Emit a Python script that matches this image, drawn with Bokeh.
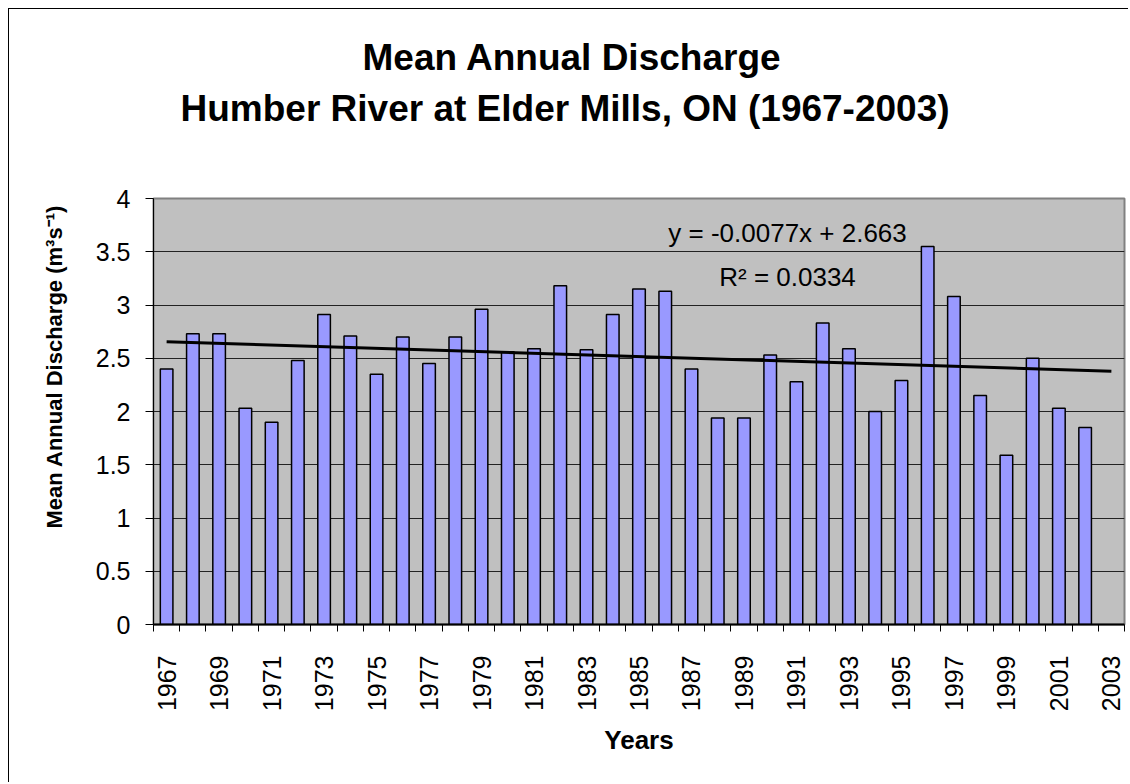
import math
from bokeh.plotting import figure
from bokeh.models import FixedTicker, Label, Title, Range1d, ColumnDataSource
from bokeh.embed import file_html
from bokeh.resources import INLINE

# ---------------- data ----------------
years = [1967, 1968, 1969, 1970, 1971, 1972, 1973, 1974, 1975, 1976, 1977, 1978,
         1979, 1980, 1981, 1982, 1983, 1984, 1985, 1986, 1987, 1988, 1989, 1990,
         1991, 1992, 1993, 1994, 1995, 1996, 1997, 1998, 1999, 2000, 2001, 2002]
discharge = [2.40, 2.73, 2.73, 2.03, 1.90, 2.48, 2.91, 2.71, 2.35, 2.70, 2.45, 2.70,
             2.96, 2.56, 2.59, 3.18, 2.58, 2.91, 3.15, 3.13, 2.40, 1.94, 1.94, 2.53,
             2.28, 2.83, 2.59, 2.00, 2.29, 3.55, 3.08, 2.15, 1.59, 2.50, 2.03, 1.85]
category_years = list(range(1967, 2004))          # x categories 1967 .. 2003
x_tick_years = list(range(1967, 2004, 2))         # labelled years
y_ticks = [0, 0.5, 1, 1.5, 2, 2.5, 3, 3.5, 4]
y_tick_labels = ["0", "0.5", "1", "1.5", "2", "2.5", "3", "3.5", "4"]
trend_slope = -0.0077
trend_intercept = 2.663
equation_text = "y = -0.0077x + 2.663"
r2_text = "R\u00b2 = 0.0334"
title_line1 = "Mean Annual Discharge"
title_line2 = "Humber River at Elder Mills, ON (1967-2003)"
y_label = "Mean Annual Discharge (m\u00b3s\u207b\u00b9)"
x_label = "Years"

FONT = "Liberation Sans"

first, last = category_years[0], category_years[-1]
p = figure(width=1120, height=774, output_backend="svg", toolbar_location=None,
           x_range=Range1d(first - 0.5, last + 0.5), y_range=Range1d(0, 4),
           min_border_left=144, min_border_right=5, min_border_top=189,
           min_border_bottom=159)
p.title = None
p.background_fill_color = "#C0C0C0"
p.border_fill_color = "white"
p.outline_line_color = "#808080"
p.outline_line_width = 2

# bars
src = ColumnDataSource(dict(x=years, top=discharge))
p.vbar(x="x", top="top", width=0.48, bottom=0, source=src,
       fill_color="#9999FF", line_color="black", line_width=1.5)

# linear trend line from the chart's own equation (x = series index 1..n)
n = len(category_years)
tx = [first, last]
ty = [trend_intercept + trend_slope * 1, trend_intercept + trend_slope * n]
p.line(tx, ty, line_color="black", line_width=3)

# grid
p.xgrid.visible = False
p.ygrid.ticker = FixedTicker(ticks=y_ticks)
p.ygrid.grid_line_color = "#222222"
p.ygrid.grid_line_width = 1

# y axis
ya = p.yaxis[0]
ya.ticker = FixedTicker(ticks=y_ticks)
ya.major_label_overrides = {t: l for t, l in zip(y_ticks, y_tick_labels)}
ya.major_tick_out = 8
ya.major_tick_in = 0
ya.minor_tick_line_color = None
ya.axis_line_color = "black"
ya.major_tick_line_color = "black"
ya.major_label_text_font = FONT
ya.major_label_text_font_size = "25px"
ya.major_label_text_color = "black"
ya.major_label_standoff = 15

# x axis
xa = p.xaxis[0]
xa.ticker = FixedTicker(ticks=x_tick_years,
                        minor_ticks=[y - 0.5 for y in category_years] + [last + 0.5])
xa.major_tick_line_color = None
xa.major_tick_out = 0
xa.major_tick_in = 0
xa.minor_tick_line_color = "black"
xa.minor_tick_out = 7
xa.minor_tick_in = 0
xa.axis_line_color = "black"
xa.axis_line_width = 2
xa.major_label_orientation = math.pi / 2
xa.major_label_text_font = FONT
xa.major_label_text_font_size = "25px"
xa.major_label_text_color = "black"
xa.major_label_standoff = 24
xa.axis_label = x_label
xa.axis_label_text_font = FONT
xa.axis_label_text_font_style = "bold"
xa.axis_label_text_font_size = "26px"
xa.axis_label_text_color = "black"
xa.axis_label_standoff = 11

# y-axis title, placed along the axis like the original
p.add_layout(Title(text=y_label, align="left", offset=96,
                   text_font=FONT, text_font_style="bold", text_font_size="22px",
                   text_color="black", standoff=52), "left")

# chart titles (spacer first so it sits next to the frame)
p.add_layout(Title(text=" ", text_font_size="20px", standoff=46), "above")
p.add_layout(Title(text=title_line2, align="left", offset=27,
                   text_font=FONT, text_font_style="bold", text_font_size="37px",
                   text_color="black", standoff=0), "above")
p.add_layout(Title(text=title_line1, align="left", offset=209,
                   text_font=FONT, text_font_style="bold", text_font_size="37px",
                   text_color="black", standoff=16), "above")

# trend equation
p.add_layout(Label(x=1990.66, y=3.675, text=equation_text, text_align="center",
                   text_baseline="alphabetic", text_font=FONT, text_font_size="26px",
                   text_color="black"))
p.add_layout(Label(x=1990.66, y=3.26, text=r2_text, text_align="center",
                   text_baseline="alphabetic", text_font=FONT, text_font_size="26px",
                   text_color="black"))

# outer chart-area border (left and top edges visible in the original)
p.styles = {"margin-left": "8px", "margin-top": "8px",
            "border-left": "1px solid black", "border-top": "1px solid black"}

open("out.html", "w").write(file_html(p, INLINE))
